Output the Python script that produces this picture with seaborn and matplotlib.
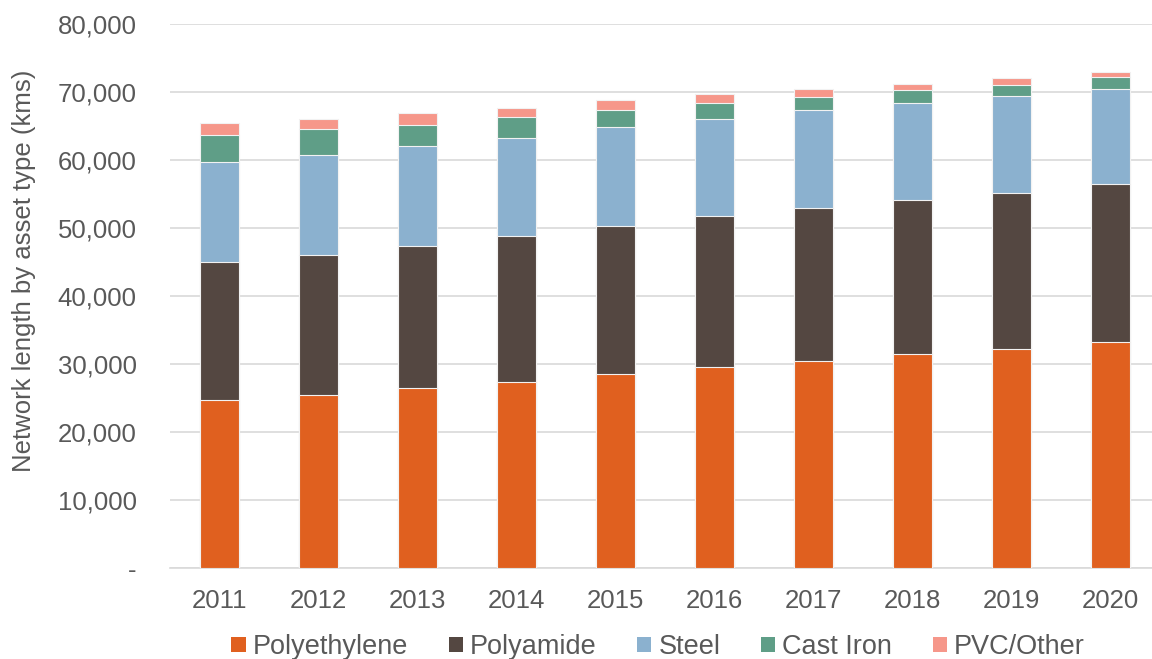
import numpy as np
import pandas as pd
import matplotlib
matplotlib.use("Agg")
import matplotlib.pyplot as plt
from matplotlib.patches import Patch
import seaborn as sns

years = ["2011", "2012", "2013", "2014", "2015", "2016", "2017", "2018", "2019", "2020"]
polyethylene = [24700, 25400, 26400, 27400, 28600, 29600, 30500, 31500, 32200, 33200]
polyamide = [20300, 20600, 20900, 21400, 21700, 22100, 22500, 22600, 22900, 23200]
steel = [14750, 14700, 14700, 14500, 14500, 14400, 14300, 14300, 14300, 14000]
cast_iron = [3950, 3800, 3200, 3000, 2600, 2300, 2000, 1900, 1600, 1800]
pvc_other = [1700, 1600, 1700, 1300, 1400, 1300, 1200, 900, 1000, 700]
series_names = ["Polyethylene", "Polyamide", "Steel", "Cast Iron", "PVC/Other"]
colors = ["#E0601F", "#544741", "#8BB1CF", "#5F9E87", "#F6978A"]
yticks = [0, 10000, 20000, 30000, 40000, 50000, 60000, 70000, 80000]
ytick_labels = ["-", "10,000", "20,000", "30,000", "40,000", "50,000", "60,000", "70,000", "80,000"]

sns.set_theme(style="white")
plt.rcParams["font.family"] = ["Liberation Sans", "DejaVu Sans"]

W, H = 1152, 659
fig = plt.figure(figsize=(W / 100, H / 100), dpi=100)
ax = fig.add_axes([170 / W, (H - 568) / H, 990 / W, 544 / H])

series = [polyethylene, polyamide, steel, cast_iron, pvc_other]
cum = np.cumsum(np.array(series, dtype=float), axis=0)

# draw cumulative totals from top to bottom so lower series overlay upper ones
for i in range(len(series) - 1, -1, -1):
    df = pd.DataFrame({"year": years, "value": cum[i]})
    sns.barplot(data=df, x="year", y="value", color=colors[i], width=0.4,
                edgecolor="#F2F2F2", linewidth=0.8, saturation=1, ax=ax, zorder=3)

ax.set_xlim(-0.5, 9.5)
ax.set_ylim(0, 80000)
ax.set_yticks(yticks)
ax.set_yticklabels(ytick_labels)
ax.yaxis.grid(True, color="#D9D9D9", linewidth=1.2, zorder=0)
ax.set_axisbelow(True)
for s in ["top", "right", "left"]:
    ax.spines[s].set_visible(False)
ax.spines["bottom"].set_color("#D9D9D9")
ax.spines["bottom"].set_linewidth(1.2)
ax.tick_params(axis="both", length=0, labelsize=18.5, colors="#595959")
ax.tick_params(axis="y", pad=24)
ax.tick_params(axis="x", pad=15)
ax.set_xlabel("")
ax.set_ylabel("Network length by asset type (kms)", fontsize=18.5, color="#595959")
ax.yaxis.set_label_coords(-134 / 990, 0.546)

handles = [Patch(facecolor=c, edgecolor="none", label=n) for c, n in zip(colors, series_names)]
fig.legend(handles=handles, loc="center", bbox_to_anchor=(658 / W, 1 - 647 / H), ncol=5,
           frameon=False, fontsize=19.5, handlelength=0.52, handleheight=0.52,
           handletextpad=0.26, columnspacing=1.5, labelcolor="#595959")

fig.savefig("out.png", dpi=100)
